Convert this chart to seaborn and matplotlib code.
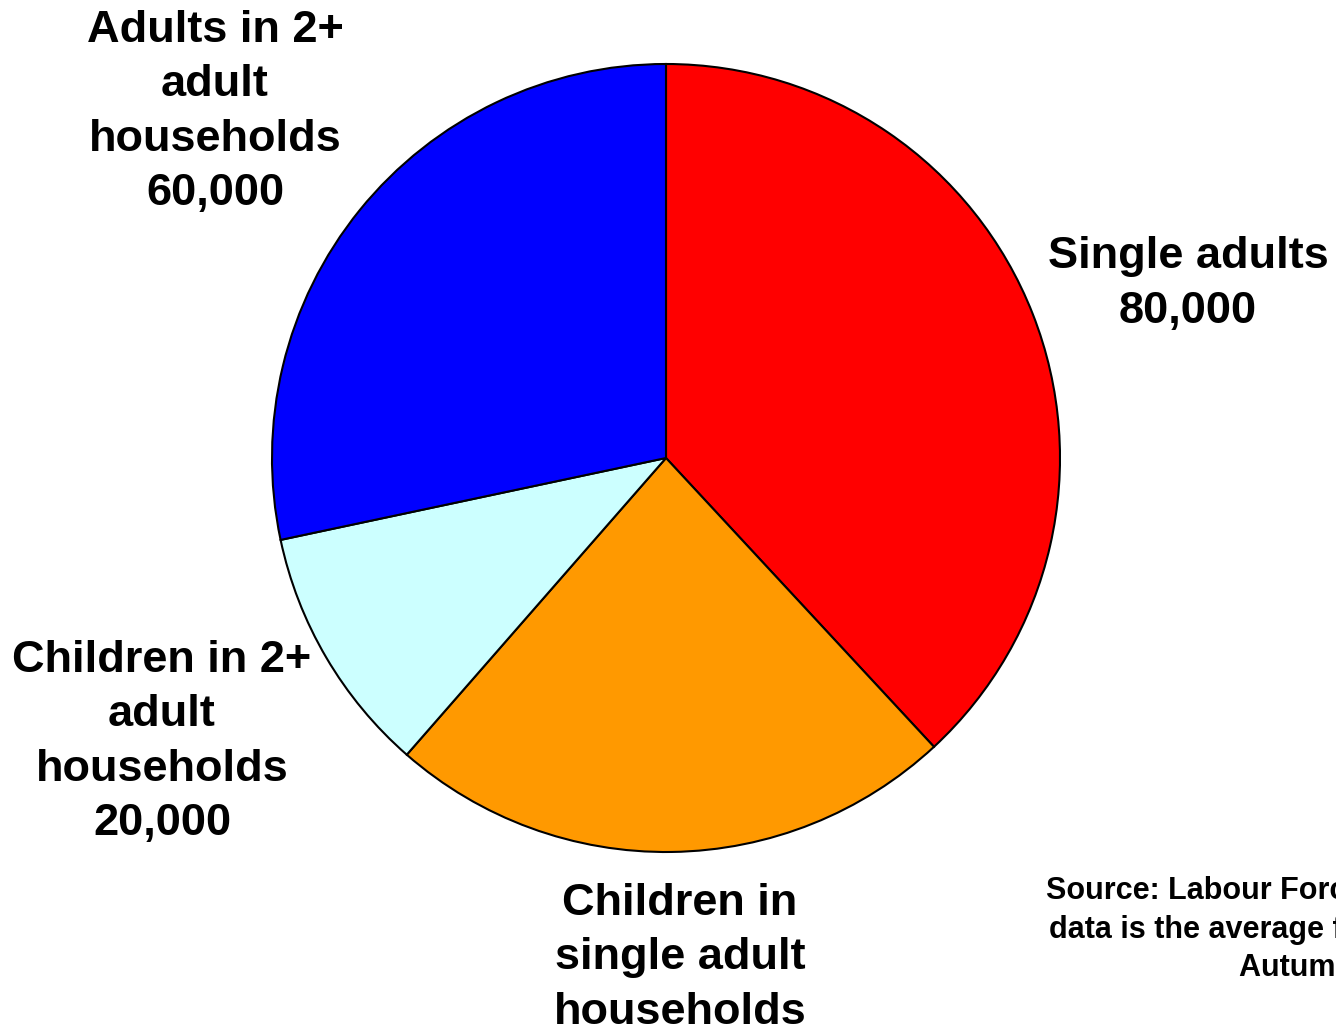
import matplotlib
matplotlib.use("Agg")
import matplotlib.pyplot as plt
import seaborn as sns

# household groups, clockwise from the top
groups = ["Single adults", "Children in\nsingle adult\nhouseholds",
          "Children in 2+\nadult\nhouseholds", "Adults in 2+\nadult\nhouseholds"]
# wedge sizes; the printed figures are rounded
counts = [80000, 49000, 21500, 59500]
count_labels = ["80,000", "50,000", "20,000", "60,000"]
colours = ["#FF0000", "#FF9900", "#CCFFFF", "#0000FF"]

source_lines = ["Source: Labour Force Survey. The",
                "data is the average for Spring and",
                "Autumn 2005"]

sns.set_theme(style="white")
plt.rcParams["font.family"] = ["Liberation Sans", "DejaVu Sans"]

fig = plt.figure(figsize=(13.36, 10.27), dpi=100)
ax = fig.add_axes([0, 0, 1, 1])

ax.pie(counts, colors=colours, startangle=90, counterclock=False,
       radius=394, center=(666, 569),
       wedgeprops=dict(edgecolor="black", linewidth=1.5))
ax.set_xlim(0, 1336)
ax.set_ylim(0, 1027)
ax.set_aspect("equal")
ax.axis("off")

# label anchors (pixels from left / top of the picture)
label_pos = [(1188, 284), (680, 985), (162, 742), (215, 112)]
for name, lab, (px, py) in zip(groups, count_labels, label_pos):
    ax.text(px, 1027 - py, f"{name}\n{lab}", ha="center", va="center",
            multialignment="center", fontsize=32.5, fontweight="bold",
            color="black", linespacing=1.41)

for line, (px, py) in zip(source_lines, [(1046, 891), (1049, 930), (1239, 968)]):
    ax.text(px, 1027 - py, line, ha="left", va="center",
            fontsize=22, fontweight="bold", color="black")

fig.savefig("out.png", dpi=100)
